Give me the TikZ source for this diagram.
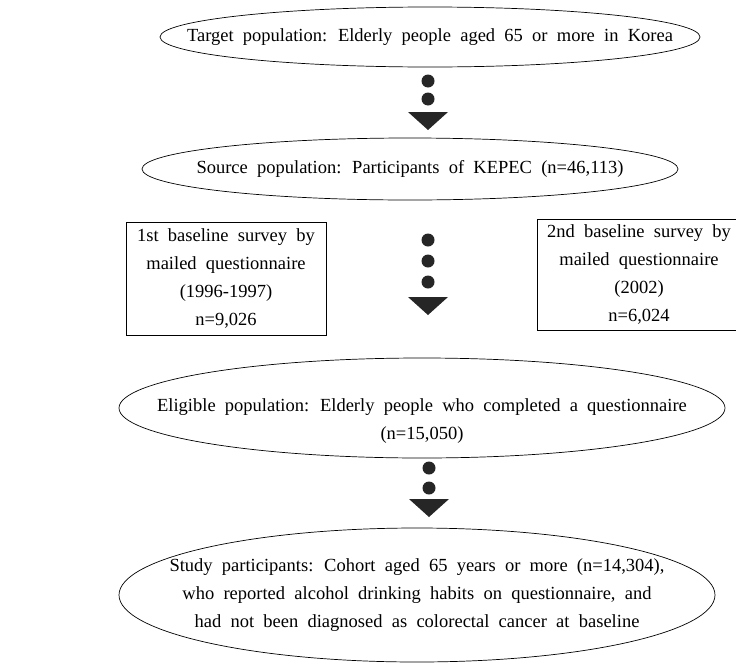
\documentclass[tikz,border=0pt]{standalone}
\usepackage{fontspec}
\setmainfont{Liberation Serif}[WordSpace=2]
\usepackage{tikz}
\usetikzlibrary{shapes.geometric}

\begin{document}
\begin{tikzpicture}[x=1pt, y=-1pt,
  oval/.style={ellipse, draw, line width=0.7pt, inner sep=0pt},
  survey/.style={rectangle, draw, line width=0.7pt, inner sep=0pt, align=center,
                 font=\fontsize{18.5}{28}\selectfont},
  txt/.style={align=center, inner sep=0pt, font=\fontsize{18.5}{28}\selectfont},
  bead/.style={circle, fill=black!85, inner sep=0pt, minimum size=13pt},
  wedge/.style={fill=black!85}
]
\useasboundingbox (0,0) rectangle (736,664);
\clip (0,0) rectangle (736,664);

% populations
\node[oval, minimum width=540pt, minimum height=60pt]  (target)   at (430,37)  {};
\node[txt] (targettext) at (target) {Target population: Elderly people aged 65 or more in Korea};
\node[oval, minimum width=536pt, minimum height=62pt]  (source)   at (410,169) {};
\node[txt] (sourcetext) at (source) {Source population: Participants of KEPEC (n=46,113)};

% baseline surveys
\node[survey, minimum width=200pt, minimum height=113pt] (first)  at (226,278.5)
  {1st baseline survey by\\mailed questionnaire\\(1996-1997)\\n=9,026};
\node[survey, minimum width=204pt, minimum height=111pt] (second) at (639,274.5)
  {2nd baseline survey by\\mailed questionnaire\\(2002)\\n=6,024};

\node[oval, minimum width=606pt, minimum height=100pt] (eligible) at (422,408) {};
\node[txt] (eligibletext) at ([yshift=-13pt]eligible.center)
  {Eligible population: Elderly people who completed a questionnaire\\(n=15,050)};
\node[oval, minimum width=596pt, minimum height=134pt] (study)    at (417,595) {};
\node[txt] (studytext) at (study)
  {Study participants: Cohort aged 65 years or more (n=14,304),\\
   who reported alcohol drinking habits on questionnaire, and\\
   had not been diagnosed as colorectal cancer at baseline};

% dotted arrows
\foreach \y in {81,99} \node[bead] (a\y) at (428,\y) {};
\fill[wedge] (408,112) -- (448,112) -- (428,130) -- cycle;
\foreach \y in {240,261,282} \node[bead] (b\y) at (428,\y) {};
\fill[wedge] (408,297) -- (448,297) -- (428,315) -- cycle;
\foreach \y in {468,488} \node[bead] (c\y) at (429,\y) {};
\fill[wedge] (409,499) -- (449,499) -- (429,517) -- cycle;
\end{tikzpicture}
\end{document}
